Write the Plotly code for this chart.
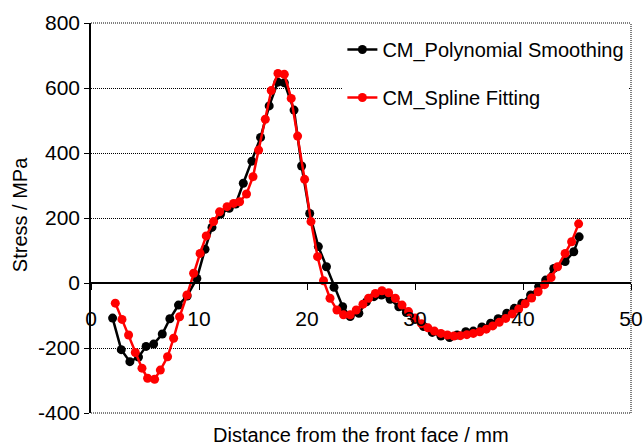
import plotly.graph_objects as go

# CM_Polynomial Smoothing (black)
poly_x = [2.0, 2.8, 3.6, 4.4, 5.1, 5.8, 6.6, 7.3, 8.1, 8.9, 9.8, 10.56, 11.2, 12.0, 12.8, 13.4,
          14.1, 14.9, 15.7, 16.5, 17.3, 17.9, 18.8, 19.5, 20.25, 21.05, 21.8, 22.5, 23.3, 24.0,
          24.8, 25.5, 26.2, 26.9, 27.7, 28.5, 29.2, 30.0, 30.8, 31.6, 32.4, 33.2, 33.9, 34.7,
          35.4, 36.2, 37.0, 37.7, 38.5, 39.2, 39.9, 40.7, 41.45, 42.1, 42.85, 43.9, 44.7, 45.2]
poly_y = [-108, -205, -242, -228, -195, -188, -157, -110, -68, -40, 14, 104, 171, 212, 230, 243,
          307, 375, 448, 545, 618, 616, 532, 360, 214, 112, 50, -13, -73, -103,
          -93, -58, -42, -37, -50, -73, -91, -112, -134, -152, -163, -168, -160, -150,
          -148, -135, -124, -110, -93, -78, -62, -37, -11, 9, 45, 66, 96, 142]

# CM_Spline Fitting (red)
spline_x = [2.25, 2.87, 3.48, 4.1, 4.72, 5.24, 5.89, 6.42, 7.09, 7.65, 8.2, 8.89, 9.5, 10.1,
            10.67, 11.35, 11.9, 12.6, 13.2, 13.76, 14.4, 15.0, 15.52, 16.14, 16.69, 17.31, 17.9,
            18.54, 19.13, 19.78, 20.37, 20.98, 21.53, 22.13, 22.77, 23.38, 24.0, 24.56, 25.18,
            25.7, 26.33, 26.94, 27.56, 28.18, 28.8, 29.4, 30.0, 30.6, 31.2, 31.8, 32.4, 33.0,
            33.6, 34.2, 34.8, 35.4, 36.0, 36.6, 37.2, 37.8, 38.4, 39.0, 39.6, 40.2, 40.8, 41.4,
            42.0, 42.6, 43.2, 43.9, 44.5, 45.15]
spline_y = [-62, -112, -160, -214, -262, -293, -296, -268, -227, -170, -104, -37, 30, 91,
            145, 189, 219, 235, 245, 250, 274, 327, 409, 504, 592, 645, 642,
            568, 452, 319, 189, 81, 7, -47, -83, -98, -98, -83, -65,
            -47, -32, -24, -30, -47, -68, -88, -108, -125, -138, -148, -155, -160,
            -163, -162, -159, -155, -150, -142, -132, -121, -109, -95, -80, -64, -46, -27,
            -5, 17, 50, 91, 127, 182]

x_ticks = [0, 10, 20, 30, 40, 50]
y_ticks = [-400, -200, 0, 200, 400, 600, 800]
y_tick_labels = ["-400", "-200", "0", "200", "400", "600", "800"]

FONT = "Liberation Sans, Arial, sans-serif"
DOT = "1px,1px"

fig = go.Figure()
fig.add_trace(go.Scatter(x=poly_x, y=poly_y, mode="lines+markers", name="CM_Polynomial Smoothing",
                         legendgroup="a",
                         line=dict(color="black", width=2.5), marker=dict(color="black", size=9)))
fig.add_trace(go.Scatter(x=spline_x, y=spline_y, mode="lines+markers", name="CM_Spline Fitting",
                         legendgroup="b",
                         line=dict(color="#ff0000", width=2.5), marker=dict(color="#ff0000", size=9)))

fig.update_layout(
    width=644, height=446,
    margin=dict(l=91, r=13, t=23, b=33, autoexpand=False),
    paper_bgcolor="white", plot_bgcolor="white",
    font=dict(family=FONT, size=20, color="black"),
    showlegend=True,
    legend=dict(x=0.997, y=0.982, xanchor="right", yanchor="top", bgcolor="white",
                font=dict(size=20), tracegroupgap=19, traceorder="grouped"),
    xaxis=dict(range=[0, 50], tickvals=x_ticks, showgrid=False, zeroline=False,
               showline=True, linecolor="black", linewidth=1.5,
               ticks="outside", ticklen=6, tickcolor="black",
               anchor="free", position=1/3, ticklabelstandoff=11,
               tickfont=dict(size=21)),
    yaxis=dict(range=[-400, 800], tickvals=y_ticks, ticktext=y_tick_labels,
               showgrid=True, gridcolor="black",
               griddash=DOT, gridwidth=1, zeroline=False,
               showline=True, linecolor="black", linewidth=1.5,
               ticks="outside", ticklen=5, tickcolor="black", tickfont=dict(size=21)),
    shapes=[
        dict(type="line", xref="paper", yref="paper", x0=1, x1=1, y0=0, y1=1,
             line=dict(color="black", width=1, dash=DOT)),
        dict(type="line", xref="paper", yref="paper", x0=0, x1=1, y0=1, y1=1,
             line=dict(color="black", width=1, dash=DOT)),
        dict(type="line", xref="paper", yref="paper", x0=0, x1=1, y0=0, y1=0,
             line=dict(color="black", width=1, dash=DOT)),
    ],
    annotations=[
        dict(text="Distance from the front face / mm", xref="paper", yref="paper",
             x=0.5, y=-0.057, xanchor="center", yanchor="middle", showarrow=False,
             font=dict(size=20)),
        dict(text="Stress / MPa", xref="paper", yref="paper", x=-0.131, y=0.508,
             xanchor="center", yanchor="middle", textangle=-90, showarrow=False,
             font=dict(size=20)),
    ],
)

fig.write_html("out.html")
